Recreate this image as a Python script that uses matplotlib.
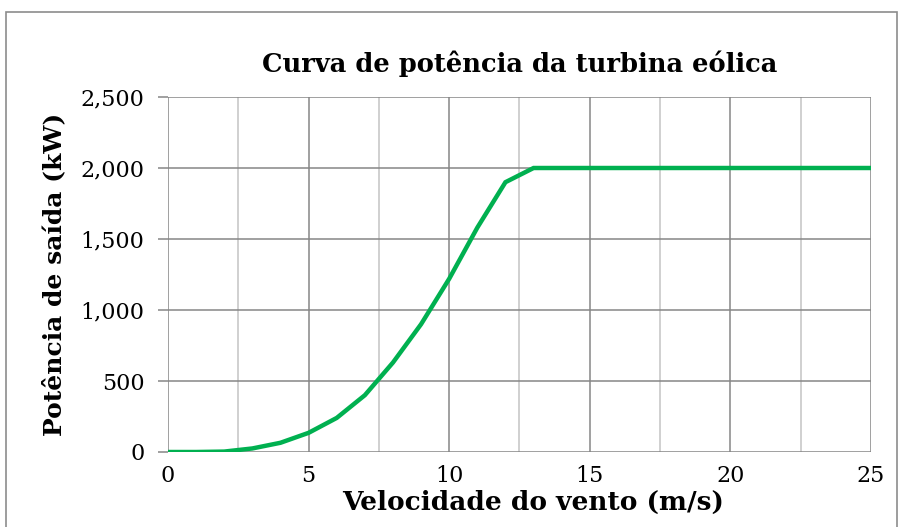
import matplotlib.pyplot as plt
from matplotlib.patches import Rectangle
from matplotlib.ticker import FuncFormatter, MultipleLocator

# wind speed (m/s) and output power (kW)
wind_speed = [0, 1, 2, 3, 4, 5, 6, 7, 8, 9, 10, 11, 12, 13,
              14, 15, 16, 17, 18, 19, 20, 21, 22, 23, 24, 25]
power_kw = [0, 0, 3, 25, 65, 135, 240, 400, 630, 900, 1220, 1580, 1900, 2000,
            2000, 2000, 2000, 2000, 2000, 2000, 2000, 2000, 2000, 2000, 2000, 2000]

TITLE = 'Curva de potência da turbina eólica'
XLABEL = 'Velocidade do vento (m/s)'
YLABEL = 'Potência de saída (kW)'

plt.rcParams['font.family'] = ['DejaVu Serif']

fig = plt.figure(figsize=(9.03, 5.27), dpi=100)
fig.patches.append(Rectangle((6 / 903, -0.05), 891 / 903, 1.05 - 12 / 527,
                             transform=fig.transFigure, fill=False,
                             edgecolor='#8c8c8c', linewidth=1.2))

ax = fig.add_axes([168 / 903, 75 / 527, 703 / 903, 355 / 527])
ax.plot(wind_speed, power_kw, color='#00b050', linewidth=3.2, solid_joinstyle='miter', zorder=3)

ax.set_xlim(0, 25)
ax.set_ylim(0, 2500)
ax.xaxis.set_major_locator(MultipleLocator(5))
ax.xaxis.set_minor_locator(MultipleLocator(2.5))
ax.yaxis.set_major_locator(MultipleLocator(500))
ax.yaxis.set_major_formatter(FuncFormatter(lambda v, p: f'{int(v):,}'))

ax.grid(True, which='major', color='#868686', linewidth=1.1)
ax.grid(True, which='minor', axis='x', color='#c4c4c4', linewidth=1.1)
ax.set_axisbelow(True)
for s in ax.spines.values():
    s.set_visible(False)

ax.tick_params(axis='y', which='major', length=7, width=1.1, color='#868686',
               labelsize=16, pad=10)
ax.tick_params(axis='x', which='both', length=0, labelsize=16, pad=9)

ax.set_title(TITLE, fontsize=18.5, fontweight='bold', pad=18)
ax.set_xlabel(XLABEL, fontsize=19, fontweight='bold')
ax.xaxis.set_label_coords(0.519, -0.108)
ax.set_ylabel(YLABEL, fontsize=18, fontweight='bold', labelpad=10)

fig.savefig('out.png', dpi=100)
